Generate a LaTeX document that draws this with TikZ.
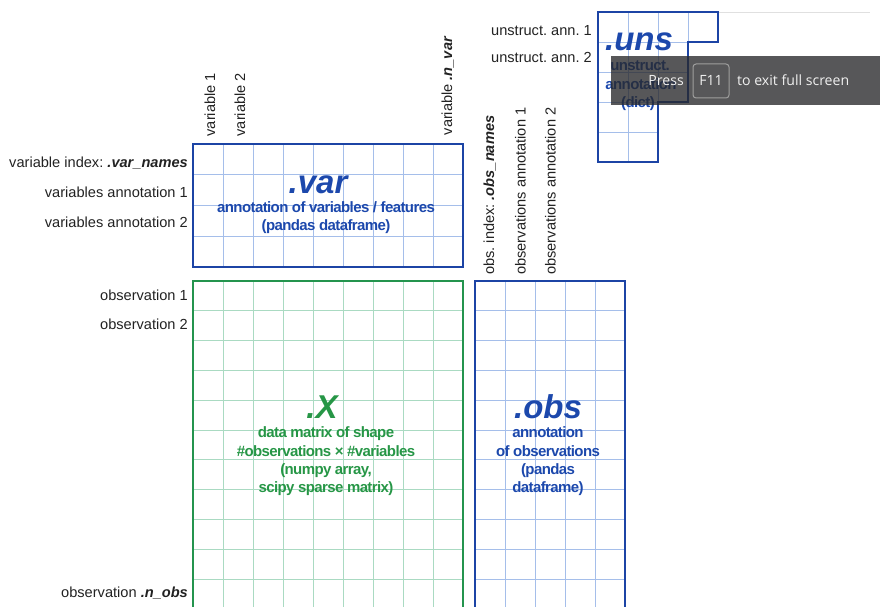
\documentclass[tikz,border=0pt]{standalone}
\usepackage{fontspec}
\setmainfont{Liberation Sans}
\newfontfamily\tightfont{Liberation Sans}[LetterSpace=-4]
\newfontfamily\uifont{Open Sans}
\definecolor{bborder}{RGB}{28,68,165}
\definecolor{btext}{RGB}{28,72,172}
\definecolor{bgridc}{RGB}{165,190,234}
\definecolor{gborder}{RGB}{36,148,78}
\definecolor{gtext}{RGB}{38,150,70}
\definecolor{ggridc}{RGB}{170,218,194}
\definecolor{labc}{RGB}{34,34,34}
\definecolor{overlayc}{RGB}{40,40,42}
\frenchspacing
\begin{document}
\begin{tikzpicture}[x=1pt,y=-1pt,
  lab/.style={font=\fontsize{14.6}{17}\selectfont, text=labc, inner sep=0pt, anchor=base east},
  vlab/.style={font=\fontsize{14.6}{17}\selectfont, text=labc, inner sep=0pt, anchor=base west, rotate=90},
  titletext/.style={font=\fontsize{33}{36}\selectfont\bfseries\itshape, inner sep=0pt, anchor=base},
  bodytext/.style={font=\tightfont\fontsize{15}{18}\selectfont\bfseries, inner sep=0pt, anchor=base},
  bgrid/.style={draw=bgridc, line width=0.9pt},
  ggrid/.style={draw=ggridc, line width=0.9pt},
  bbox/.style={draw=bborder, line width=2.8pt, inner sep=0pt, outer sep=0pt, anchor=north west},
  gbox/.style={draw=gborder, line width=2.8pt, inner sep=0pt, outer sep=0pt, anchor=north west},
  uitext/.style={font=\uifont\fontsize{14.1}{17}\selectfont, text=white!94!black, inner sep=0pt, anchor=base}
]
\useasboundingbox (0,0) rectangle (880,607);
\begin{scope}
\clip (0,0) rectangle (880,607);
% faint top line
\draw[black!12, line width=0.8pt] (718,12) -- (870,12);
% ---- .var grid
\foreach \i in {1,...,8} \draw[bgrid] (193+30*\i,144) -- (193+30*\i,267);
\foreach \j in {1,2,3} \draw[bgrid] (193,144+30.75*\j) -- (463,144+30.75*\j);
% ---- .X grid
\foreach \i in {1,...,8} \draw[ggrid] (193+30*\i,281) -- (193+30*\i,630);
\foreach \j in {1,...,11} \draw[ggrid] (193,281+29.8*\j) -- (463,281+29.8*\j);
% ---- .obs grid
\foreach \i in {1,...,4} \draw[bgrid] (475+30*\i,281) -- (475+30*\i,630);
\foreach \j in {1,...,11} \draw[bgrid] (475,281+29.8*\j) -- (625,281+29.8*\j);
% ---- .uns grid
\begin{scope}
\clip (598,12) -- (718,12) -- (718,42) -- (688,42) -- (688,102) -- (658,102) -- (658,162) -- (598,162) -- cycle;
\foreach \i in {1,2,3} \draw[bgrid] (598+30*\i,12) -- (598+30*\i,162);
\foreach \j in {1,...,4} \draw[bgrid] (598,12+30*\j) -- (718,12+30*\j);
\end{scope}
% ---- boxes
\node[bbox, minimum width=270pt, minimum height=123pt] (var) at (193,144) {};
\node[gbox, minimum width=270pt, minimum height=360pt] (X) at (193,281) {};
\node[bbox, minimum width=150pt, minimum height=360pt] (obs) at (475,281) {};
\draw[draw=bborder, line width=2.8pt, line join=miter] (598,12) -- (718,12) -- (718,42) -- (688,42) -- (688,102) -- (658,102) -- (658,162) -- (598,162) -- cycle;
% ---- row labels
\node[lab] (vidx) at (188,167) {variable index: \textbf{\textit{.var\_names}}};
\node[lab] (vann1) at (188,197) {variables annotation 1};
\node[lab] (vann2) at (188,227) {variables annotation 2};
\node[lab] (obs1) at (188,300) {observation 1};
\node[lab] (obs2) at (188,329.5) {observation 2};
\node[lab] (obsn) at (188,597) {observation \textbf{\textit{.n\_obs}}};
\node[lab] (uann1) at (592,35.5) {unstruct. ann. 1};
\node[lab] (uann2) at (592,63) {unstruct. ann. 2};
% ---- column labels
\node[vlab] (var1) at (215,136.5) {variable 1};
\node[vlab] (var2) at (245,136.5) {variable 2};
\node[vlab] (varn) at (452,135.5) {variable \textbf{\textit{.n\_var}}};
\node[vlab] (oidx) at (494,275) {obs. index: \textbf{\textit{.obs\_names}}};
\node[vlab] (oann1) at (525.5,275) {observations annotation 1};
\node[vlab] (oann2) at (555.5,275) {observations annotation 2};
% ---- .var text
\node[titletext, text=btext] (vart) at (318,193) {.var};
\node[bodytext, text=btext] (vartA) at (326,212) {annotation of variables / features};
\node[bodytext, text=btext] (vartB) at (326,230.5) {(pandas dataframe)};
% ---- .X text
\node[titletext, text=gtext] (Xt) at (322,418.3) {.X};
\node[bodytext, text=gtext] (XtA) at (326,437.7) {data matrix of shape};
\node[bodytext, text=gtext] (XtB) at (326,456) {\#observations × \#variables};
\node[bodytext, text=gtext] (XtC) at (326,474.3) {(numpy array,};
\node[bodytext, text=gtext] (XtD) at (326,492.7) {scipy sparse matrix)};
% ---- .obs text
\node[titletext, text=btext] (obst) at (548,418.3) {.obs};
\node[bodytext, text=btext] (obstA) at (548,437.7) {annotation};
\node[bodytext, text=btext] (obstB) at (548,456) {of observations};
\node[bodytext, text=btext] (obstC) at (548,474.3) {(pandas};
\node[bodytext, text=btext] (obstD) at (548,492.7) {dataframe)};
% ---- .uns text
\node[titletext, text=btext] (unst) at (639,51) {.uns};
\node[bodytext, text=btext] (unstA) at (640,71) {unstruct.};
\node[bodytext, text=btext] (unstB) at (641,89.5) {annotation};
\node[bodytext, text=btext] (unstC) at (638,108) {(dict)};
% ---- full-screen notice overlay
\fill[overlayc, opacity=0.78] (611,56) rectangle (880,105);
\node[uitext, anchor=base east] (press) at (684,86) {Press};
\node[draw=white!62!black, line width=1pt, rounded corners=3pt, minimum width=36pt, minimum height=34pt, inner sep=0pt] (key) at (711,81) {};
\node[uitext] (keyt) at (711,86) {F11};
\node[uitext, anchor=base west] (exitt) at (737,86) {to exit full screen};
\end{scope}
\end{tikzpicture}
\end{document}
